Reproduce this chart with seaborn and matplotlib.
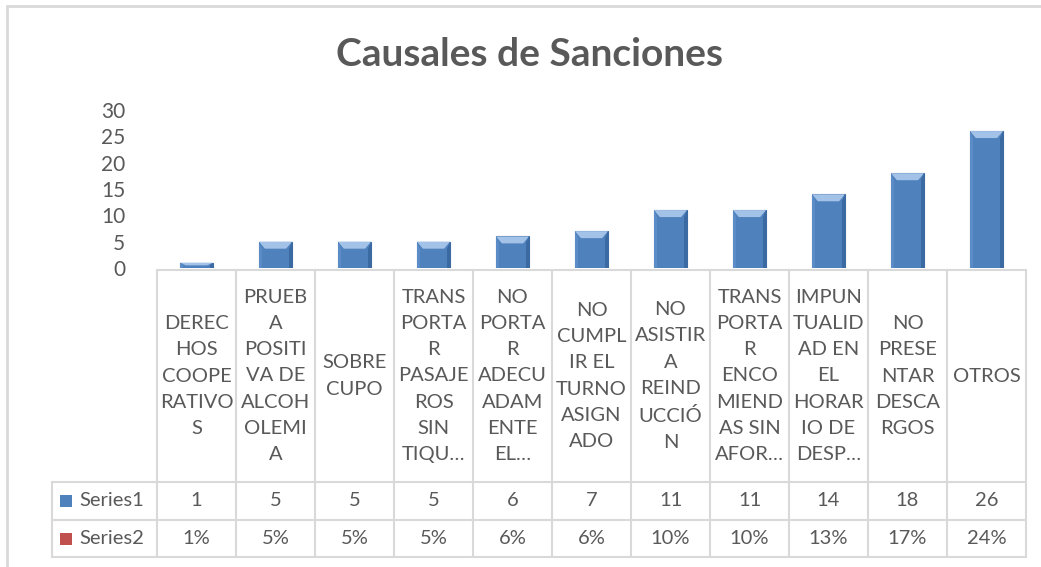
import pandas as pd
import matplotlib
matplotlib.use("Agg")
import matplotlib.pyplot as plt
from matplotlib.patches import Rectangle, Polygon
from matplotlib.lines import Line2D
from matplotlib.transforms import blended_transform_factory
import seaborn as sns

# data
title = "Causales de Sanciones"
header_labels = [
    "DEREC\nHOS\nCOOPE\nRATIVO\nS",
    "PRUEB\nA\nPOSITI\nVA DE\nALCOH\nOLEMI\nA",
    "SOBRE\nCUPO",
    "TRANS\nPORTA\nR\nPASAJE\nROS\nSIN\nTIQU…",
    "NO\nPORTA\nR\nADECU\nADAM\nENTE\nEL…",
    "NO\nCUMPL\nIR EL\nTURNO\nASIGN\nADO",
    "NO\nASISTIR\nA\nREIND\nUCCIÓ\nN",
    "TRANS\nPORTA\nR\nENCO\nMIEND\nAS SIN\nAFOR…",
    "IMPUN\nTUALID\nAD EN\nEL\nHORAR\nIO DE\nDESP…",
    "NO\nPRESE\nNTAR\nDESCA\nRGOS",
    "OTROS",
]
series_names = ["Series1", "Series2"]
series1 = [1, 5, 5, 5, 6, 7, 11, 11, 14, 18, 26]
series2 = [1, 5, 5, 5, 6, 6, 10, 10, 13, 17, 24]  # percent
yticks = [0, 5, 10, 15, 20, 25, 30]

df = pd.DataFrame({"causa": range(len(series1)), "valor": series1})

sns.set_theme(style="white")
plt.rcParams["font.family"] = ["Lato", "DejaVu Sans"]

W, H = 1041, 567
TXT = "#595959"
GRID = "#d9d9d9"
BLUE = "#4f81bd"
RED = "#c0504d"
FS = 14.5


def fx(p):
    return p / W


def fy(p):
    return 1 - p / H


fig = plt.figure(figsize=(W / 100, H / 100), dpi=100)
ax = fig.add_axes([fx(157), fy(268), fx(1026) - fx(157), fy(110) - fy(268)])

sns.barplot(data=df, x="causa", y="valor", color=BLUE, saturation=1,
            width=0.42, ax=ax, edgecolor="#3c6aa3", linewidth=0.8)
ax.set_xlim(-0.5, len(series1) - 0.5)
ax.set_ylim(yticks[0], yticks[-1])
ax.set_yticks(yticks)
ax.set_xticks([])
ax.set_xlabel("")
ax.set_ylabel("")
ax.tick_params(axis="y", length=0, pad=23, labelsize=15, labelcolor=TXT)
sns.despine(ax=ax, left=True, bottom=True)

# bevel look on the bars (computed from the drawn patches)
px_per_unit = (268 - 110) / (yticks[-1] - yticks[0])
for p in ax.patches:
    x0, w, h = p.get_x(), p.get_width(), p.get_height()
    dx = w * 0.18
    dy = min(7 / px_per_unit, h * 0.5)
    ax.add_patch(Polygon([(x0, h), (x0 + w, h), (x0 + w - dx, h - dy), (x0 + dx, h - dy)],
                         closed=True, facecolor="#a3c2e8", edgecolor="none", zorder=3))
    ax.add_patch(Polygon([(x0 + w, h), (x0 + w, 0), (x0 + w - dx * 0.6, 0), (x0 + w - dx * 0.6, h - dy)],
                         closed=True, facecolor="#3b69a2", edgecolor="none", zorder=3))
    ax.add_patch(Polygon([(x0, h), (x0, 0), (x0 + dx * 0.5, 0), (x0 + dx * 0.5, h - dy)],
                         closed=True, facecolor="#5b8cc7", edgecolor="none", zorder=3))

# data table
trans = blended_transform_factory(ax.transData, fig.transFigure)
n = len(series1)
for i in range(n + 1):
    b = i - 0.5
    ax.add_line(Line2D([b, b], [fy(270), fy(557)], transform=trans, color=GRID,
                       lw=1.5, clip_on=False))
ax.add_line(Line2D([-0.5, n - 0.5], [fy(270), fy(270)], transform=trans, color=GRID,
                   lw=1.5, clip_on=False))
x_right = ax.get_position().x1
for yy in [482, 520, 557]:
    fig.add_artist(Line2D([fx(52), x_right], [fy(yy), fy(yy)], color=GRID, lw=1.5))
fig.add_artist(Line2D([fx(52), fx(52)], [fy(482), fy(557)], color=GRID, lw=1.5))

for i in range(n):
    ax.text(i, fy(376), header_labels[i], transform=trans, ha="center", va="center",
            fontsize=FS, color=TXT, linespacing=1.66, clip_on=False)
    ax.text(i, fy(501), str(series1[i]), transform=trans, ha="center", va="center",
            fontsize=FS, color=TXT, clip_on=False)
    ax.text(i, fy(539), f"{series2[i]}%", transform=trans, ha="center", va="center",
            fontsize=FS, color=TXT, clip_on=False)

for name, col, yc in [(series_names[0], BLUE, 501), (series_names[1], RED, 539)]:
    fig.add_artist(Rectangle((fx(60), fy(yc + 6)), fx(12), 12 / H, facecolor=col,
                             edgecolor="none"))
    fig.text(fx(79), fy(yc), name, ha="left", va="center", fontsize=FS, color=TXT)

# title and chart frame
fig.text(fx(530), fy(54), title, ha="center", va="center", fontsize=28,
         fontweight="bold", color=TXT)
fig.add_artist(Line2D([fx(7), fx(7)], [fy(6), 0], color=GRID, lw=2))
fig.add_artist(Line2D([fx(7), 1], [fy(6), fy(6)], color=GRID, lw=2))

fig.savefig("out.png", dpi=100)
